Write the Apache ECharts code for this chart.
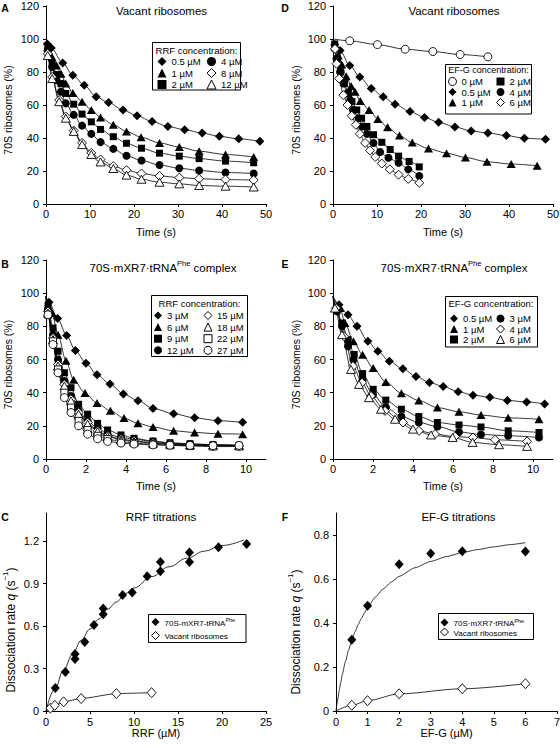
<!DOCTYPE html>
<html><head><meta charset="utf-8">
<script src="https://cdn.jsdelivr.net/npm/echarts@6.0.0/dist/echarts.min.js"></script>
<style>html,body{margin:0;padding:0;background:#fff}#c{width:560px;height:748px}</style>
</head><body><div id="c"></div>
<script>
// ---------- Panel A: vacant ribosomes, RRF titration (time s, % 70S) ----------
const a05_t = [0, 0.3, 1.2, 3.8, 6.1, 8.7, 11.4, 14.2, 17.5, 20.7, 24.1, 27.7, 31.5, 35.5, 39.4, 43.8, 48.6];
const a05_v = [98, 97, 94.5, 85.5, 78, 72, 65, 61.5, 57, 53.5, 50, 47, 45, 43, 41, 39.5, 38];
const a1_t = [0, 0.4, 1.4, 2.4, 3.4, 4.5, 6.1, 8.2, 10.3, 12.4, 15.3, 18.3, 21.6, 25.8, 30.3, 34.8, 40.8, 47.2];
const a1_v = [98, 95, 89, 84, 79, 73, 67.3, 62, 57, 52.5, 48, 44, 40.5, 37, 34.5, 32, 30, 28.5];
const a2_t = [0, 0.4, 1.4, 2.4, 3.4, 4.5, 6.3, 8.2, 10.3, 12.4, 15.3, 18.3, 21.7, 25.8, 30.3, 34.8, 40.8, 47.2];
const a2_v = [98, 94, 85, 78.5, 73, 67, 60.5, 54.5, 49.8, 45.2, 40.8, 36.8, 33.8, 30.8, 29, 27.5, 26, 25];
const a4_t = [0, 0.4, 1.4, 2.4, 3.4, 4.5, 6.3, 8.2, 10.3, 12.4, 15.3, 18.3, 21.7, 25.8, 30.3, 34.8, 40.8, 47.2];
const a4_v = [98, 93, 83, 75, 68, 61, 54, 47.5, 42.5, 37.5, 33.4, 29.2, 26.4, 23.6, 21.7, 20.3, 19.1, 18.5];
const a8_t = [0, 0.4, 1.4, 3.0, 4.5, 6.3, 8.2, 10.3, 12.4, 15.3, 18.3, 21.7, 25.8, 30.3, 34.8, 40.8, 47.2];
const a8_v = [97, 91, 77, 63, 53, 44.5, 37, 31, 27, 23, 20.5, 18.5, 17, 16, 15.3, 14.8, 14.5];
const a12_t = [0, 0.4, 1.4, 3.0, 4.5, 6.3, 8.2, 10.3, 12.4, 15.3, 18.3, 21.7, 25.8, 30.3, 34.8, 40.8, 47.2];
const a12_v = [97, 90, 76, 62, 52, 44, 36, 30, 25.5, 21.5, 17.5, 15, 13.2, 12.2, 11.2, 10.8, 10.3];

// ---------- Panel D: vacant ribosomes, EF-G titration ----------
const d0_t = [0, 3.8, 10.1, 16.4, 22.7, 28.9, 35.2];
const d0_v = [100, 98.9, 96.6, 93.8, 92.4, 90.6, 89.2];
const d05_t = [0, 0.4, 1.6, 3.8, 6.1, 8.7, 11.4, 14.1, 17.5, 20.8, 24.0, 27.7, 31.4, 35.2, 39.4, 43.5, 48.3];
const d05_v = [98, 96.5, 93, 84, 77, 70, 65, 60.5, 56, 52.5, 49.5, 46.7, 44.3, 43, 41.5, 39.8, 39.2];
const d1_t = [0, 0.5, 1.2, 2.0, 3.0, 4.1, 5.0, 6.2, 8.2, 10.2, 12.4, 15.1, 18.0, 21.7, 25.8, 30.1, 35.0, 40.5, 46.4];
const d1_v = [98, 96, 90, 84.5, 77.5, 71.5, 68, 62.5, 57, 51.5, 46.5, 41.5, 37.2, 33.6, 30.8, 28.2, 25.6, 24.2, 23.2];
const d2_t = [0, 0.4, 1.0, 1.7, 2.6, 3.5, 4.3, 5.4, 6.5, 7.7, 9.2, 11.1, 13.0, 14.9, 17.3, 19.6];
const d2_v = [98, 97, 88, 80, 73, 67, 62, 57, 52, 47, 42, 37.4, 33, 29, 25.8, 22.5];
const d4_t = [0, 0.4, 0.8, 1.6, 2.4, 3.2, 3.9, 4.6, 5.8, 6.6, 7.7, 9.2, 10.7, 12.6, 14.9, 17.1, 19.6];
const d4_v = [98, 94, 88, 80, 73, 67, 63, 57, 52, 47, 42.5, 37, 31.5, 28, 25, 21, 17];
const d6_t = [0, 0.45, 0.8, 1.4, 2.35, 3.3, 4.25, 5.2, 6.1, 7.3, 8.4, 9.6, 11.1, 12.9, 14.9, 17.1, 19.6];
const d6_v = [97, 94, 85, 76, 66, 60, 53.5, 48, 42.5, 37, 32.5, 28.5, 24.5, 21, 17.8, 15.2, 12.8];

// ---------- Panel B: 70S·mXR7·tRNAPhe complex, RRF titration ----------
const b3_t = [0, 0.15, 0.58, 1.03, 1.47, 2.0, 2.55, 3.2, 3.87, 4.6, 5.35, 6.38, 7.43, 8.6, 9.83];
const b3_v = [98, 94.5, 84.7, 74.4, 65.4, 57.8, 50.8, 45.2, 39.2, 35.2, 30.5, 27.3, 24.8, 23.1, 22.1];
const b6_t = [0, 0.3, 0.6, 1.0, 1.38, 1.95, 2.55, 3.22, 3.9, 4.6, 5.35, 6.38, 7.43, 8.6, 9.83];
const b6_v = [98, 88, 75, 59.2, 47.8, 39.8, 33.7, 29.1, 24.7, 21.5, 19.3, 17, 16, 15.2, 15];
const bFast_t = [0, 0.1, 0.35, 0.6, 0.92, 1.25, 1.63, 2.08, 2.58, 3.08, 3.75, 4.4, 5.35, 6.2, 7.2, 8.35, 9.65];
const b9_v = [98, 92, 79, 65, 52, 43, 33, 27, 21.5, 17.5, 14.5, 12.5, 10.8, 9.8, 9.2, 8.6, 8.2];
const b12_v = [98, 90, 75, 60, 47, 38, 29, 23, 18.5, 15, 13, 12, 10.5, 9.5, 9, 8.6, 8.3];
const b15_v = [98, 89, 73, 57, 45, 36, 28, 22, 17, 14, 12, 11, 9.8, 9, 8.5, 7.8, 7.8];
const b18_v = [98, 88, 72, 56, 44, 35, 27, 21, 16.5, 13.5, 11.5, 10.5, 9.5, 8.9, 8.5, 8.3, 8.1];
const b22_v = [98, 87, 71, 54, 40, 31, 23, 17.5, 14, 12, 10.5, 9.6, 8.8, 8.2, 7.8, 7.5, 7.5];
const b27_v = [98, 87, 69, 52, 37, 28, 20, 15, 12.2, 10.6, 9.6, 9, 8.5, 8.3, 8.2, 8, 8.2];

// ---------- Panel E: 70S·mXR7·tRNAPhe complex, EF-G titration ----------
const e05_t = [0, 0.3, 0.75, 1.2, 1.74, 2.24, 2.82, 3.49, 4.15, 4.82, 5.51, 6.26, 7.0, 7.84, 8.72, 9.68, 10.58];
const e05_v = [98, 93, 87, 80, 71, 65, 59, 54.4, 49.8, 46.2, 43.7, 40.6, 38.5, 37.2, 35.3, 34.4, 33.2];
const e1_t = [0, 0.35, 0.6, 1.02, 1.48, 2.01, 2.64, 3.42, 4.29, 5.22, 6.3, 7.4, 8.76, 10.3];
const e1_v = [98, 91, 82, 71, 62.8, 54.8, 46.4, 39.7, 35.3, 31, 28.5, 26.5, 24.8, 24];
const e2_t = [0, 0.2, 0.45, 0.75, 1.06, 1.48, 2.01, 2.64, 3.42, 4.29, 5.22, 6.3, 7.4, 8.76, 10.3];
const e2_v = [98, 90, 82, 72, 63, 51.5, 42, 35.5, 30, 25.6, 22, 20.5, 19.3, 17, 16];
const e3_t = [0, 0.2, 0.45, 0.75, 1.02, 1.48, 2.0, 2.64, 3.42, 4.29, 5.22, 6.3, 7.4, 8.76, 10.3];
const e3_v = [98, 89, 80, 68, 59.8, 47.8, 38.8, 31.2, 25.6, 22, 19.6, 16.3, 14.8, 14, 13];
const e4_t = [0, 0.15, 0.55, 1.0, 1.45, 1.9, 2.6, 3.5, 4.3, 5.1, 6.1, 7.0, 8.1, 9.7];
const e4_v = [98, 91, 74, 56, 46, 38, 29, 22, 17, 15, 13.5, 13, 11.6, 10.6];
const e6_t = [0, 0.1, 0.45, 0.9, 1.3, 1.8, 2.4, 3.1, 4.0, 4.9, 5.98, 6.98, 8.3, 9.7];
const e6_v = [97, 91, 75, 54, 45, 37, 30, 24, 18, 14.5, 13, 10, 8.6, 7.6];

// ---------- Panel C: RRF titrations (µM, rate s-1) ----------
const c_rrf = [1.06, 2.2, 3.3, 3.3, 4.4, 5.45, 6.5, 6.5, 8.7, 9.8, 11.5, 13.0, 13.0, 16.3, 16.3, 19.6, 22.8];
const c_rate = [0.163, 0.276, 0.368, 0.403, 0.488, 0.608, 0.684, 0.724, 0.820, 0.837, 0.952, 0.988, 1.054, 1.054, 1.12, 1.157, 1.181];
const c_fit_x = [0, 1, 2, 3, 4, 5, 6, 7, 8, 9, 10, 12, 14, 16, 18, 20, 22.5];
const c_fit_y = [0, 0.155, 0.29, 0.4, 0.5, 0.58, 0.65, 0.72, 0.77, 0.83, 0.87, 0.95, 1.02, 1.08, 1.13, 1.17, 1.21];
const c_vac_x = [0, 0.5, 1, 2, 4, 8, 12];
const c_vac_y = [0, 0.02, 0.04, 0.065, 0.088, 0.123, 0.13];

// ---------- Panel F: EF-G titrations ----------
const f_efg = [0.5, 1, 2, 3, 4, 6];
const f_rate = [0.324, 0.478, 0.667, 0.716, 0.726, 0.725];
const f_fit_x = [0, 0.05, 0.1, 0.15, 0.2, 0.3, 0.4, 0.5, 0.6, 0.7, 0.8, 0.9, 1, 1.25, 1.5, 1.75, 2, 2.5, 3, 3.5, 4, 4.5, 5, 5.5, 6];
const f_fit_y = [0, 0.048, 0.091, 0.13, 0.166, 0.226, 0.277, 0.321, 0.359, 0.392, 0.42, 0.446, 0.47, 0.518, 0.556, 0.586, 0.612, 0.651, 0.68, 0.702, 0.72, 0.734, 0.746, 0.756, 0.765];
const f_vac_x = [0, 0.5, 1, 2, 4, 6];
const f_vac_y = [0, 0.026, 0.047, 0.078, 0.101, 0.124];

// tick / label texts
const timeLabel = 'Time (s)';
const pctLabel = '70S ribosomes (%)';

const FONT = '"Liberation Sans", Arial, sans-serif';
const SYM = {dia:'diamond', tri:'triangle', sq:'rect', cir:'circle'};
const SIZE = {dia:9, tri:[9,8], sq:7, cir:8};

function pts(xs, ys) {
  return xs.map((x, i) => x === 0 ? {value:[x, ys[i]], symbol:'none'} : [x, ys[i]]);
}
function curve(name, xs, ys, gi, shape, open) {
  return {
    type:'line', name, xAxisIndex:gi, yAxisIndex:gi, data:pts(xs, ys),
    symbol:SYM[shape], symbolSize:SIZE[shape], smooth:0.3, smoothMonotone:'x',
    itemStyle:{color: open ? '#fff' : '#000', borderColor:'#000', borderWidth: open ? 0.9 : 0},
    lineStyle:{color:'#000', width:0.8}, emphasis:{disabled:true}, silent:true, z:2
  };
}
function fitLine(xs, ys, gi, sm) {
  return {type:'line', xAxisIndex:gi, yAxisIndex:gi, data:xs.map((x,i)=>[x, ys[i]]), symbol:'none',
    smooth:sm, smoothMonotone:'x', lineStyle:{color:'#000', width:0.8}, emphasis:{disabled:true}, silent:true, z:2};
}
function dots(name, xs, ys, gi, open) {
  return {type:'scatter', name, xAxisIndex:gi, yAxisIndex:gi, data:xs.map((x,i)=>[x, ys[i]]),
    symbol:'diamond', symbolSize:[9,10],
    itemStyle:{color: open ? '#fff' : '#000', borderColor:'#000', borderWidth: open ? 0.9 : 0, opacity:1},
    emphasis:{disabled:true}, silent:true, z:3};
}

const series = [
  curve('A|0.5 µM', a05_t, a05_v, 0, 'dia', false),
  curve('A|1 µM', a1_t, a1_v, 0, 'tri', false),
  curve('A|2 µM', a2_t, a2_v, 0, 'sq', false),
  curve('A|4 µM', a4_t, a4_v, 0, 'cir', false),
  curve('A|8 µM', a8_t, a8_v, 0, 'dia', true),
  curve('A|12 µM', a12_t, a12_v, 0, 'tri', true),

  curve('D|0 µM', d0_t, d0_v, 1, 'cir', true),
  curve('D|0.5 µM', d05_t, d05_v, 1, 'dia', false),
  curve('D|1 µM', d1_t, d1_v, 1, 'tri', false),
  curve('D|2 µM', d2_t, d2_v, 1, 'sq', false),
  curve('D|4 µM', d4_t, d4_v, 1, 'cir', false),
  curve('D|6 µM', d6_t, d6_v, 1, 'dia', true),

  curve('B|3 µM', b3_t, b3_v, 2, 'dia', false),
  curve('B|6 µM', b6_t, b6_v, 2, 'tri', false),
  curve('B|9 µM', bFast_t, b9_v, 2, 'sq', false),
  curve('B|12 µM', bFast_t, b12_v, 2, 'cir', false),
  curve('B|15 µM', bFast_t, b15_v, 2, 'dia', true),
  curve('B|18 µM', bFast_t, b18_v, 2, 'tri', true),
  curve('B|22 µM', bFast_t, b22_v, 2, 'sq', true),
  curve('B|27 µM', bFast_t, b27_v, 2, 'cir', true),

  curve('E|0.5 µM', e05_t, e05_v, 3, 'dia', false),
  curve('E|1 µM', e1_t, e1_v, 3, 'tri', false),
  curve('E|2 µM', e2_t, e2_v, 3, 'sq', false),
  curve('E|3 µM', e3_t, e3_v, 3, 'cir', false),
  curve('E|4 µM', e4_t, e4_v, 3, 'dia', true),
  curve('E|6 µM', e6_t, e6_v, 3, 'tri', true),

  fitLine(c_fit_x, c_fit_y, 4, 0.4),
  dots('C|70S-mXR7-tRNA', c_rrf, c_rate, 4, false),
  Object.assign(curve('C|Vacant ribosomes', c_vac_x, c_vac_y, 4, 'dia', true), {symbolSize:[9,10], smooth:0.2}),

  fitLine(f_fit_x, f_fit_y, 5, 0.2),
  dots('F|70S·mXR7·tRNA', f_efg, f_rate, 5, false),
  Object.assign(curve('F|Vacant ribosomes', f_vac_x, f_vac_y, 5, 'dia', true), {symbolSize:[9,10], smooth:0.3}),
];

const grids = [
  {left:46, top:6, width:220, height:198},
  {left:333, top:6, width:220, height:198},
  {left:46, top:260, width:220, height:199},
  {left:333, top:260, width:220, height:199},
  {left:46, top:513, width:220, height:198},
  {left:336, top:513, width:221, height:198},
].map(g => Object.assign(g, {outerBoundsMode:'none', containLabel:false}));

const axisCommon = {
  axisLine:{show:true, onZero:false, lineStyle:{color:'#000', width:1}},
  axisTick:{show:true, length:3, lineStyle:{color:'#000', width:1}},
  splitLine:{show:false},
  nameLocation:'middle',
};
function xAx(gi, min, max, interval, name, gap, margin, hideMax) {
  return Object.assign({}, axisCommon, {gridIndex:gi, type:'value', min, max, interval, name, nameGap:gap,
    nameTextStyle:{fontSize:11, fontFamily:FONT, color:'#000'},
    axisLabel:{fontSize:11, fontFamily:FONT, color:'#000', margin, showMaxLabel: !hideMax, showMinLabel:true}});
}
function yAx(gi, min, max, interval, name, gap, nts, hideMax) {
  return Object.assign({}, axisCommon, {gridIndex:gi, type:'value', min, max, interval, name, nameGap:gap,
    nameTextStyle:nts,
    axisLabel:{fontSize:11, fontFamily:FONT, color:'#000', margin:7, showMaxLabel: !hideMax, showMinLabel:true}});
}
const pctName = {fontSize:10.5, fontFamily:FONT, color:'#000', padding:[0, 10, 0, 0]};
const rateRich = {
  a:{fontSize:12, fontFamily:FONT, color:'#000', lineHeight:16, verticalAlign:'bottom'},
  i:{fontSize:12, fontFamily:FONT, color:'#000', fontStyle:'italic', lineHeight:16, verticalAlign:'bottom'},
  s:{fontSize:8, fontFamily:FONT, color:'#000', verticalAlign:'top', lineHeight:16}
};
const rateName = '{a|Dissociation rate }{i|q}{a| (s}{s|−1}{a|)}';

const xAxis = [
  xAx(0, 0, 50, 10, timeLabel, 22, 4, false),
  xAx(1, 0, 50, 10, timeLabel, 22, 4, false),
  xAx(2, 0, 11, 2, timeLabel, 21, 4, true),
  xAx(3, 0, 11, 2, timeLabel, 21, 4, true),
  xAx(4, 0, 25, 5, 'RRF (µM)', 16, 5, false),
  xAx(5, 0, 7, 1, 'EF-G (µM)', 14, 5, false),
];
const yAxis = [
  yAx(0, 0, 120, 20, pctLabel, 33, pctName, false),
  yAx(1, 0, 120, 20, pctLabel, 32, pctName, false),
  yAx(2, 0, 120, 20, pctLabel, 33, pctName, false),
  yAx(3, 0, 120, 20, pctLabel, 32, pctName, false),
  yAx(4, 0, 1.4, 0.3, rateName, 29, {rich:rateRich, padding:[0, 36, 0, 0]}, true),
  yAx(5, 0, 0.9, 0.2, rateName, 34, {rich:rateRich, padding:[0, 40, 0, 0]}, true),
];

function legendCol(items, left, top, gap, size, font, rich) {
  return {
    data: items.map(([name, shape, open]) => ({name, icon:SYM[shape],
      itemStyle:{color: open ? '#fff' : '#000', borderColor:'#000', borderWidth: open ? 1 : 0}})),
    orient:'vertical', left, top, itemGap:gap, itemWidth:size, itemHeight:size, padding:0,
    selectedMode:false, z:10,
    formatter: n => {
      const t = n.split('|')[1];
      return rich ? '{a|' + t + '}' + (t.indexOf('tRNA') >= 0 ? '{s|Phe}' : '') : t;
    },
    textStyle:{fontSize:font, fontFamily:FONT, color:'#000', rich: rich || undefined}
  };
}
const legRich = {
  a:{fontSize:8, fontFamily:FONT, color:'#000', lineHeight:10, verticalAlign:'bottom'},
  s:{fontSize:5.5, fontFamily:FONT, color:'#000', lineHeight:10, verticalAlign:'top'}
};
const legend = [
  legendCol([['A|0.5 µM','dia',false],['A|1 µM','tri',false],['A|2 µM','sq',false]], 157.5, 56.5, 1.5, 9, 9.5),
  legendCol([['A|4 µM','cir',false],['A|8 µM','dia',true],['A|12 µM','tri',true]], 206.5, 56.5, 1.5, 9, 9.5),
  legendCol([['D|0 µM','cir',true],['D|0.5 µM','dia',false],['D|1 µM','tri',false]], 448, 76.5, 0.5, 8, 9.5),
  legendCol([['D|2 µM','sq',false],['D|4 µM','cir',false],['D|6 µM','dia',true]], 496, 76.5, 0.5, 8, 9.5),
  legendCol([['B|3 µM','dia',false],['B|6 µM','tri',false],['B|9 µM','sq',false],['B|12 µM','cir',false]], 154, 310.5, 1.6, 8, 9.5),
  legendCol([['B|15 µM','dia',true],['B|18 µM','tri',true],['B|22 µM','sq',true],['B|27 µM','cir',true]], 203.5, 310.5, 1.6, 8, 9.5),
  legendCol([['E|0.5 µM','dia',false],['E|1 µM','tri',false],['E|2 µM','sq',false]], 450, 313.5, 0.5, 8, 9.5),
  legendCol([['E|3 µM','cir',false],['E|4 µM','dia',true],['E|6 µM','tri',true]], 496, 313.5, 0.5, 8, 9.5),
  legendCol([['C|70S-mXR7-tRNA','dia',false],['C|Vacant ribosomes','dia',true]], 151, 617, 4, 8, 8, legRich),
  legendCol([['F|70S·mXR7·tRNA','dia',false],['F|Vacant ribosomes','dia',true]], 440, 617.5, 0, 8, 8, legRich),
];

function txt(x, y, text, size, bold, rich) {
  const style = {text, x:0, y:0, fontSize:size, fontFamily:FONT, fill:'#000', align:'center', verticalAlign:'middle',
    fontWeight: bold ? 'bold' : 'normal'};
  if (rich) style.rich = rich;
  return {type:'text', x, y, style, z:10, silent:true};
}
function box(x, y, w, h) {
  return {type:'rect', shape:{x, y, width:w, height:h}, style:{fill:'#fff', stroke:'#000', lineWidth:1}, z:5, silent:true};
}
const titleRich = {
  a:{fontSize:11.5, fontFamily:FONT, fill:'#000', lineHeight:15, verticalAlign:'bottom'},
  s:{fontSize:7.5, fontFamily:FONT, fill:'#000', lineHeight:15, verticalAlign:'top'}
};
const graphic = [
  txt(5, 7.5, 'A', 10.5, true), txt(285, 7.5, 'D', 10.5, true),
  txt(5, 263.5, 'B', 10.5, true), txt(285, 263.5, 'E', 10.5, true),
  txt(5, 517, 'C', 10.5, true), txt(285, 517, 'F', 10.5, true),
  txt(161.5, 11, 'Vacant ribosomes', 11.5), txt(454, 11, 'Vacant ribosomes', 11.5),
  txt(163, 266.5, '{a|70S·mXR7·tRNA}{s|Phe}{a| complex}', 11.5, false, titleRich),
  txt(454, 266.5, '{a|70S·mXR7·tRNA}{s|Phe}{a| complex}', 11.5, false, titleRich),
  txt(161, 517.3, 'RRF titrations', 11.5), txt(458.5, 516.7, 'EF-G titrations', 11.5),
  box(152.5, 42.5, 88, 47.5), txt(196.5, 50, 'RRF concentration:', 9.5),
  box(445.5, 64.5, 86, 49.5), txt(488.5, 70, 'EF-G concentration:', 9),
  box(151.5, 295.5, 96, 61), txt(199.5, 303.5, 'RRF concentration:', 9.5),
  box(445.5, 296.5, 92, 50.5), txt(491, 303.5, 'EF-G concentration:', 9.5),
  box(148.5, 614.5, 97.5, 28),
  box(438.5, 613.5, 95, 26),
];

const chart = echarts.init(document.getElementById('c'), null, {renderer:'svg', width:560, height:748});
chart.setOption({
  backgroundColor:'#fff', animation:false,
  textStyle:{fontFamily:FONT},
  grid:grids, xAxis, yAxis, legend, series, graphic
});
</script></body></html>
